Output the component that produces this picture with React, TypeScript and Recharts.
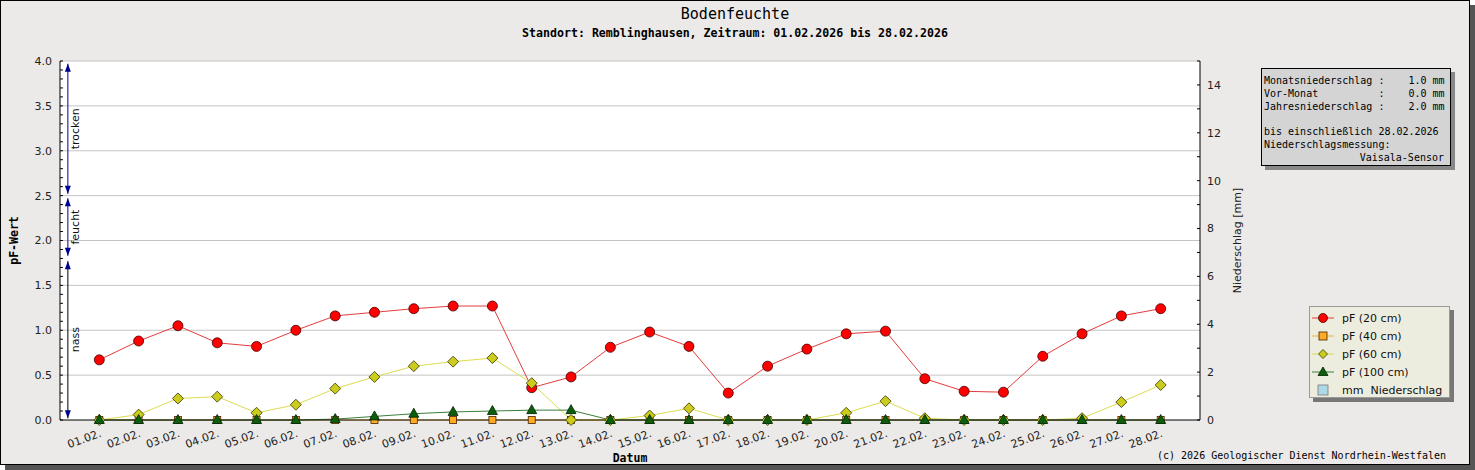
import React from "react"
import {
  ComposedChart,
  Line,
  Bar,
  XAxis,
  YAxis,
  CartesianGrid,
  ReferenceLine,
} from "recharts"

// Tageswerte Februar 2026
const days = [
  "01.02.", "02.02.", "03.02.", "04.02.", "05.02.", "06.02.", "07.02.",
  "08.02.", "09.02.", "10.02.", "11.02.", "12.02.", "13.02.", "14.02.",
  "15.02.", "16.02.", "17.02.", "18.02.", "19.02.", "20.02.", "21.02.",
  "22.02.", "23.02.", "24.02.", "25.02.", "26.02.", "27.02.", "28.02.",
]
const pf20 = [
  0.67, 0.88, 1.05, 0.86, 0.82, 1.0, 1.16, 1.2, 1.24, 1.27, 1.27, 0.36, 0.48, 0.81,
  0.98, 0.82, 0.3, 0.6, 0.79, 0.96, 0.99, 0.46, 0.32, 0.31, 0.71, 0.96, 1.16, 1.24,
]
const pf40 = [
  0, 0, 0, 0, 0, 0, 0, 0, 0, 0, 0, 0, 0, 0,
  0, 0, 0, 0, 0, 0, 0, 0, 0, 0, 0, 0, 0, 0,
]
const pf60 = [
  0, 0.06, 0.24, 0.26, 0.08, 0.17, 0.35, 0.48, 0.6, 0.65, 0.69, 0.41, 0, 0,
  0.05, 0.13, 0, 0, 0, 0.08, 0.21, 0.02, 0, 0, 0, 0.02, 0.2, 0.39,
]
const pf100 = [
  0, 0, 0, 0, 0, 0, 0.01, 0.04, 0.07, 0.09, 0.1, 0.11, 0.11, 0,
  0, 0, 0, 0, 0, 0, 0, 0, 0, 0, 0, 0, 0, 0,
]
const rain = [
  0, 0, 0, 0, 0, 0, 0, 0, 0, 0, 0, 0, 0, 0,
  0, 0, 0, 0, 0, 0, 0, 0, 0, 0, 0, 0, 0, 0,
]

const dayTicks = days.map((_, i) => i + 1)
const pfTicks = Array.from({ length: 41 }, (_, i) => i / 10)
const pfGrid = [0.5, 1, 1.5, 2, 2.5, 3, 3.5, 4]
const mmTicks = Array.from({ length: 16 }, (_, i) => i)

// Bereiche am linken Rand
const zones = [
  { text: "trocken", from: 3.97, to: 2.52, line: "#00008b" },
  { text: "feucht", from: 2.47, to: 1.83, line: "#00008b" },
  { text: "nass", from: 1.77, to: 0.02, line: "#000000" },
]

const infoLines = [
  "Monatsniederschlag :    1.0 mm",
  "Vor-Monat          :    0.0 mm",
  "Jahresniederschlag :    2.0 mm",
  "",
  "bis einschließlich 28.02.2026",
  "Niederschlagsmessung:",
]

const data = days.map((d, i) => ({
  day: i + 1,
  label: d,
  pf20: pf20[i],
  pf40: pf40[i],
  pf60: pf60[i],
  pf100: pf100[i],
  mm: rain[i],
}))

const COL = {
  bg: "#eceae8",
  red: "#ff0000",
  redLine: "#e43c3c",
  orange: "#ffaa22",
  orangeLine: "#f0b040",
  yellow: "#cccc1c",
  yellowLine: "#dcdc50",
  green: "#0b5e0b",
  greenLine: "#3a7f3a",
  blue: "#add8e6",
}

const mono = "'DejaVu Sans Mono', monospace"
const sans = "'DejaVu Sans', sans-serif"

const circleDot = (p: any) => (
  <circle key={`c${p.index}`} cx={p.cx} cy={p.cy} r={5} fill={COL.red} stroke="#400" strokeWidth={0.8} />
)
const squareDot = (p: any) => (
  <rect key={`s${p.index}`} x={p.cx - 3.5} y={p.cy - 3.5} width={7} height={7} fill={COL.orange} stroke="#442200" strokeWidth={0.8} />
)
const diamondDot = (p: any) => (
  <polygon
    key={`d${p.index}`}
    points={`${p.cx},${p.cy - 5.5} ${p.cx + 5.5},${p.cy} ${p.cx},${p.cy + 5.5} ${p.cx - 5.5},${p.cy}`}
    fill={COL.yellow}
    stroke="#333300"
    strokeWidth={0.8}
  />
)
const triangleDot = (p: any) => (
  <polygon
    key={`t${p.index}`}
    points={`${p.cx},${p.cy - 5.5} ${p.cx + 5},${p.cy + 3.5} ${p.cx - 5},${p.cy + 3.5}`}
    fill={COL.green}
    stroke="#002200"
    strokeWidth={0.8}
  />
)

const zoneShape = (text: string, lineColor: string) => (p: any) => {
  const { x1, y1, x2, y2 } = p
  const x = x1
  const top = Math.min(y1, y2)
  const bot = Math.max(y1, y2)
  const mid = (top + bot) / 2
  return (
    <g>
      <line x1={x} y1={top} x2={x2} y2={bot} stroke={lineColor} strokeWidth={1} />
      <polygon points={`${x},${top} ${x - 3},${top + 8} ${x + 3},${top + 8}`} fill="#00008b" />
      <polygon points={`${x},${bot} ${x - 3},${bot - 8} ${x + 3},${bot - 8}`} fill="#00008b" />
      <text
        x={x + 8}
        y={mid}
        transform={`rotate(-90 ${x + 8} ${mid})`}
        textAnchor="middle"
        dominantBaseline="central"
        fontSize={11}
        fontFamily={sans}
        fill="#111"
      >
        {text}
      </text>
    </g>
  )
}

const legendItems = [
  { name: "pF (20 cm)", kind: "circle" },
  { name: "pF (40 cm)", kind: "square" },
  { name: "pF (60 cm)", kind: "diamond" },
  { name: "pF (100 cm)", kind: "triangle" },
  { name: "mm  Niederschlag", kind: "bar" },
]

function LegendIcon({ kind }: { kind: string }) {
  const cx = 11
  const cy = 6
  let line = null as any
  let mark = null as any
  if (kind === "circle") {
    line = COL.redLine
    mark = <circle cx={cx} cy={cy} r={4.5} fill={COL.red} stroke="#400" strokeWidth={0.8} />
  } else if (kind === "square") {
    line = COL.orangeLine
    mark = <rect x={cx - 4} y={cy - 4} width={8} height={8} fill={COL.orange} stroke="#442200" strokeWidth={0.8} />
  } else if (kind === "diamond") {
    line = COL.yellowLine
    mark = <polygon points={`${cx},${cy - 4.5} ${cx + 4.5},${cy} ${cx},${cy + 4.5} ${cx - 4.5},${cy}`} fill={COL.yellow} stroke="#333300" strokeWidth={0.8} />
  } else if (kind === "triangle") {
    line = COL.greenLine
    mark = <polygon points={`${cx},${cy - 5} ${cx + 5},${cy + 3.5} ${cx - 5},${cy + 3.5}`} fill={COL.green} stroke="#002200" strokeWidth={0.8} />
  } else {
    mark = <rect x={cx - 5} y={cy - 5} width={10} height={10} fill={COL.blue} stroke="#777" strokeWidth={0.8} />
  }
  return (
    <svg width={22} height={12} style={{ display: "block" }}>
      {line && <line x1={0} y1={cy} x2={22} y2={cy} stroke={line} strokeWidth={1} />}
      {mark}
    </svg>
  )
}

export default function App() {
  return (
    <div style={{ position: "absolute", left: 0, top: 0, width: 1475, height: 470, fontFamily: sans }}>
      <div
        style={{
          position: "absolute",
          left: 0,
          top: 0,
          width: 1470,
          height: 465,
          boxSizing: "border-box",
          border: "1px solid #000",
          background: COL.bg,
          boxShadow: "5px 5px 0 #555",
        }}
      />
      <div style={{ position: "absolute", left: 0, top: 5, width: 1470, textAlign: "center", fontFamily: mono, fontSize: 15, color: "#000" }}>
        Bodenfeuchte
      </div>
      <div style={{ position: "absolute", left: 0, top: 26, width: 1470, textAlign: "center", fontFamily: mono, fontSize: 11.6, fontWeight: "bold", color: "#000" }}>
        Standort: Remblinghausen, Zeitraum: 01.02.2026 bis 28.02.2026
      </div>

      <div style={{ position: "absolute", left: 0, top: 0 }}>
        <ComposedChart
          width={1470}
          height={465}
          data={data}
          margin={{ top: 61, right: 230, bottom: 5, left: 0 }}
        >
          <CartesianGrid yAxisId="pf" fill="#ffffff" horizontal={false} vertical={false} />
          {pfGrid.map((v) => (
            <ReferenceLine key={`g${v}`} yAxisId="pf" y={v} stroke="#c4c4c4" strokeWidth={1} />
          ))}
          <XAxis
            dataKey="day"
            type="number"
            domain={[0, 29]}
            ticks={dayTicks}
            interval={0}
            tickFormatter={(v) => days[v - 1] ?? ""}
            tickLine={false}
            tickSize={0}
            tickMargin={9}
            angle={-20}
            textAnchor="end"
            height={40}
            axisLine={{ stroke: "#000" }}
            tick={{ fontSize: 11, fill: "#222", fontFamily: sans }}
            label={{
              value: "Datum",
              position: "insideBottom",
              offset: -2,
              style: { fontFamily: mono, fontSize: 11.5, fontWeight: "bold", fill: "#000" },
            }}
          />
          <YAxis
            yAxisId="pf"
            orientation="left"
            domain={[0, 4]}
            ticks={pfTicks}
            interval={0}
            width={60}
            tickSize={-3}
            tickMargin={11}
            tickFormatter={(v) => (Math.abs(v * 2 - Math.round(v * 2)) < 1e-6 ? v.toFixed(1) : "")}
            axisLine={{ stroke: "#000" }}
            tickLine={{ stroke: "#000" }}
            tick={{ fontSize: 11, fill: "#222", fontFamily: sans }}
            label={{
              value: "pF-Wert",
              angle: -90,
              position: "insideLeft",
              offset: 14,
              style: { textAnchor: "middle", fontFamily: mono, fontSize: 11.5, fontWeight: "bold", fill: "#000" },
            }}
          />
          <YAxis
            yAxisId="mm"
            orientation="right"
            domain={[0, 15]}
            ticks={mmTicks}
            interval={0}
            width={40}
            tickSize={-3}
            tickMargin={10}
            tickFormatter={(v) => (v % 2 === 0 ? String(v) : "")}
            axisLine={{ stroke: "#000" }}
            tickLine={{ stroke: "#000" }}
            tick={{ fontSize: 11, fill: "#222", fontFamily: sans }}
            label={{
              value: "Niederschlag [mm]",
              angle: -90,
              position: "insideRight",
              offset: 3,
              style: { textAnchor: "middle", fontFamily: sans, fontSize: 11, fill: "#222" },
            }}
          />
          {zones.map((z) => (
            <ReferenceLine
              key={z.text}
              yAxisId="pf"
              segment={[
                { x: 0.2, y: z.from },
                { x: 0.2, y: z.to },
              ]}
              shape={zoneShape(z.text, z.line)}
            />
          ))}
          <Bar yAxisId="mm" dataKey="mm" fill={COL.blue} barSize={20} isAnimationActive={false} />
          <Line
            yAxisId="pf"
            dataKey="pf20"
            type="linear"
            stroke={COL.redLine}
            strokeWidth={1}
            dot={circleDot}
            activeDot={false}
            isAnimationActive={false}
          />
          <Line
            yAxisId="pf"
            dataKey="pf40"
            type="linear"
            stroke={COL.orangeLine}
            strokeWidth={1}
            dot={squareDot}
            activeDot={false}
            isAnimationActive={false}
          />
          <Line
            yAxisId="pf"
            dataKey="pf60"
            type="linear"
            stroke={COL.yellowLine}
            strokeWidth={1}
            dot={diamondDot}
            activeDot={false}
            isAnimationActive={false}
          />
          <Line
            yAxisId="pf"
            dataKey="pf100"
            type="linear"
            stroke={COL.greenLine}
            strokeWidth={1}
            dot={triangleDot}
            activeDot={false}
            isAnimationActive={false}
          />
        </ComposedChart>
      </div>

      {/* Infobox Niederschlag */}
      <div
        style={{
          position: "absolute",
          left: 1261,
          top: 68,
          width: 190,
          height: 98,
          boxSizing: "border-box",
          border: "1px solid #000",
          background: "#d4d4d4",
          boxShadow: "4px 4px 0 #888",
          padding: "6px 6px 0 2px",
          fontFamily: mono,
          fontSize: 10,
          lineHeight: "12.8px",
          color: "#000",
        }}
      >
        {infoLines.map((l, i) => (
          <div key={i} style={{ whiteSpace: "pre", height: 12.8 }}>
            {l}
          </div>
        ))}
        <div style={{ whiteSpace: "pre", textAlign: "right" }}>Vaisala-Sensor</div>
      </div>

      {/* Legende */}
      <div
        style={{
          position: "absolute",
          left: 1309,
          top: 306,
          width: 141,
          height: 92,
          boxSizing: "border-box",
          border: "1px solid #999",
          background: "#ededdf",
          boxShadow: "4px 4px 0 #777",
          paddingTop: 2,
          paddingLeft: 2,
        }}
      >
        {legendItems.map((it) => (
          <div key={it.name} style={{ display: "flex", alignItems: "center", height: 18 }}>
            <LegendIcon kind={it.kind} />
            <span style={{ marginLeft: 8, fontSize: 11, fontFamily: sans, color: "#111", whiteSpace: "pre" }}>{it.name}</span>
          </div>
        ))}
      </div>

      <div style={{ position: "absolute", left: 1157, top: 450, fontFamily: mono, fontSize: 10, color: "#000", whiteSpace: "pre" }}>
        (c) 2026 Geologischer Dienst Nordrhein-Westfalen
      </div>
    </div>
  )
}
